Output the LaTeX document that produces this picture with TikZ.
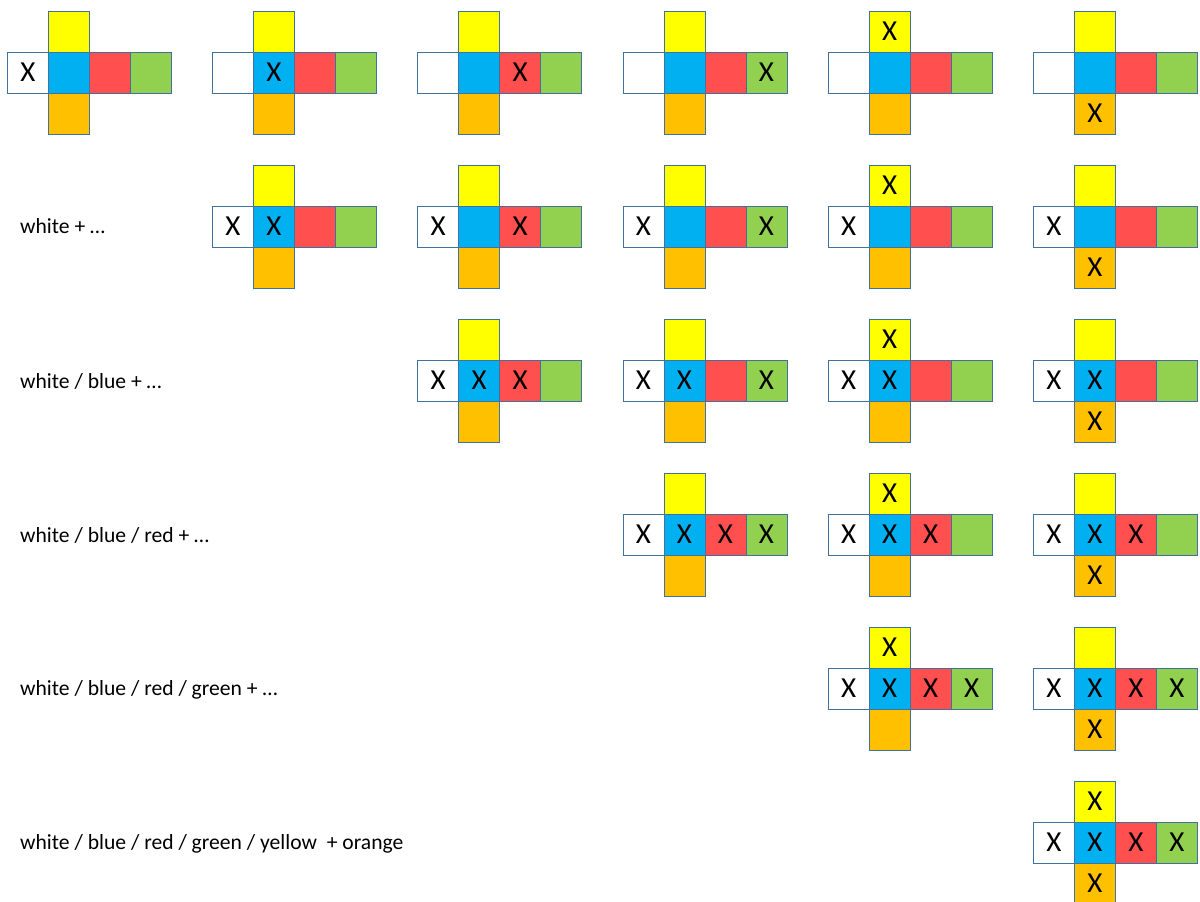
\documentclass[tikz,border=0pt]{standalone}
\usepackage{fontspec}
\setmainfont{Carlito}
\definecolor{edgec}{HTML}{41719C}
\definecolor{cwhite}{HTML}{FFFFFF}
\definecolor{cblue}{HTML}{00B0F0}
\definecolor{cred}{HTML}{FF4F4F}
\definecolor{cgreen}{HTML}{92D050}
\definecolor{cyellow}{HTML}{FFFF00}
\definecolor{corange}{HTML}{FFC000}
\newcommand\xfont{\fontsize{29}{29}\selectfont}
\newcommand\lblfont{\fontsize{21.6}{23}\selectfont}
\tikzset{
  face/.style={draw=edgec, line width=0.8pt, minimum size=41pt, inner sep=0pt, outer sep=0pt, font=\xfont, anchor=north west},
  rowlabel/.style={anchor=west, inner sep=0pt, font=\lblfont}
}
% #1 name, #2 column, #3 row, #4 white, #5 blue, #6 red, #7 green, #8 yellow, #9 orange
\newcommand\cnet[9]{%
  \pgfmathsetmacro\cx{7.3+205.2*(#2-1)}%
  \pgfmathsetmacro\cy{11+154*(#3-1)}%
  \node[face,fill=cwhite]  (#1w) at (\cx,\cy+41) {#4};
  \node[face,fill=cblue]   (#1b) at (\cx+41,\cy+41) {#5};
  \node[face,fill=cred]    (#1r) at (\cx+82,\cy+41) {#6};
  \node[face,fill=cgreen]  (#1g) at (\cx+123,\cy+41) {#7};
  \node[face,fill=cyellow] (#1y) at (\cx+41,\cy) {#8};
  \node[face,fill=corange] (#1o) at (\cx+41,\cy+82) {#9};
}
\begin{document}
\begin{tikzpicture}[x=1pt,y=-1pt]
\useasboundingbox (0,0) rectangle (1200,902);
\clip (0,0) rectangle (1200,902);
% row 1
\cnet{a}{1}{1}{X}{}{}{}{}{}
\cnet{b}{2}{1}{}{X}{}{}{}{}
\cnet{c}{3}{1}{}{}{X}{}{}{}
\cnet{d}{4}{1}{}{}{}{X}{}{}
\cnet{e}{5}{1}{}{}{}{}{X}{}
\cnet{f}{6}{1}{}{}{}{}{}{X}
% row 2
\cnet{g}{2}{2}{X}{X}{}{}{}{}
\cnet{h}{3}{2}{X}{}{X}{}{}{}
\cnet{i}{4}{2}{X}{}{}{X}{}{}
\cnet{j}{5}{2}{X}{}{}{}{X}{}
\cnet{k}{6}{2}{X}{}{}{}{}{X}
% row 3
\cnet{l}{3}{3}{X}{X}{X}{}{}{}
\cnet{m}{4}{3}{X}{X}{}{X}{}{}
\cnet{n}{5}{3}{X}{X}{}{}{X}{}
\cnet{o}{6}{3}{X}{X}{}{}{}{X}
% row 4
\cnet{p}{4}{4}{X}{X}{X}{X}{}{}
\cnet{q}{5}{4}{X}{X}{X}{}{X}{}
\cnet{r}{6}{4}{X}{X}{X}{}{}{X}
% row 5
\cnet{s}{5}{5}{X}{X}{X}{X}{X}{}
\cnet{t}{6}{5}{X}{X}{X}{X}{}{X}
% row 6
\cnet{u}{6}{6}{X}{X}{X}{X}{X}{X}
% labels
\node[rowlabel] (l2) at (20,226.5) {white + \dots};
\node[rowlabel] (l3) at (20,381) {white / blue + \dots};
\node[rowlabel] (l4) at (20,535) {white / blue / red + \dots};
\node[rowlabel] (l5) at (20,689.5) {white / blue / red / green + \dots};
\node[rowlabel] (l6) at (20,843.5) {white / blue / red / green / yellow~ + orange};
\end{tikzpicture}
\end{document}
